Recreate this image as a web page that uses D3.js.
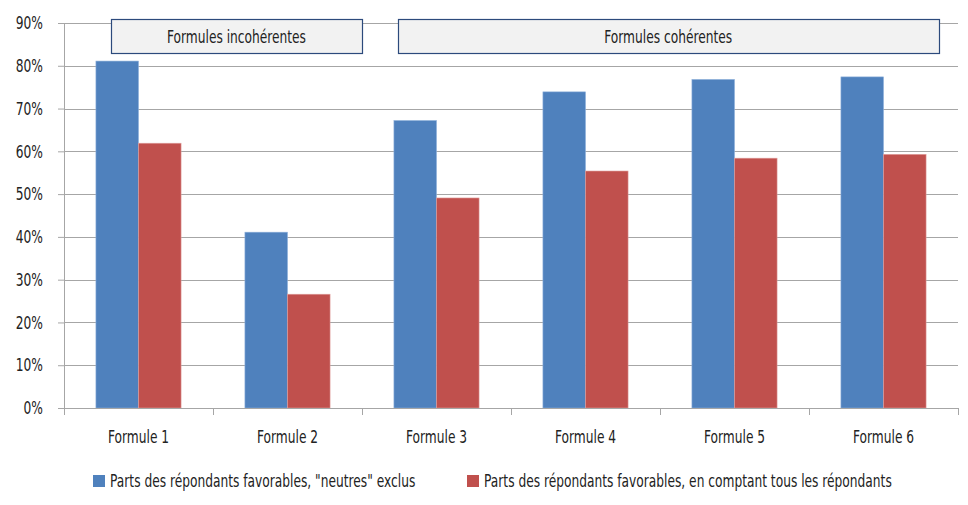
<!DOCTYPE html>
<html>
<head>
<meta charset="utf-8">
<script src="https://cdn.jsdelivr.net/npm/d3@7"></script>
<style>
  body { margin: 0; background: #fff; }
  svg text { font-family: "DejaVu Sans", sans-serif; fill: #222; }
</style>
</head>
<body>
<div class="chart"></div>
<script>
const categories = ["Formule 1", "Formule 2", "Formule 3", "Formule 4", "Formule 5", "Formule 6"];
const seriesNames = ["Parts des répondants favorables, \"neutres\" exclus",
                     "Parts des répondants favorables, en comptant tous les répondants"];
const seriesColors = ["#4f81bd", "#c0504d"];
const neutresExclus = [81.1, 41.1, 67.2, 73.9, 76.8, 77.4];
const tousRepondants = [61.9, 26.6, 49.1, 55.4, 58.4, 59.3];
const yTicks = [0, 10, 20, 30, 40, 50, 60, 70, 80, 90];
const groupLabels = ["Formules incohérentes", "Formules cohérentes"];

const WIDTH = 968, HEIGHT = 505;
const margins = {left: 64, right: 10, top: 23, bottom: 97};
const width = WIDTH - margins.left - margins.right;
const height = HEIGHT - margins.top - margins.bottom;
const FONT = 18;
const K = 0.68; // horizontal squeeze to get a condensed look

// box extents in category units (layout only)
const boxSpans = [[0.315, 2.0], [2.24, 5.87]];

function condense(sel) {
  sel.each(function () {
    const t = d3.select(this);
    const x0 = +t.attr("x") || 0;
    t.attr("x", x0 / K).attr("transform", `scale(${K},1)`).attr("font-size", FONT);
  });
}

const svg = d3.select(".chart").append("svg")
  .attr("width", WIDTH)
  .attr("height", HEIGHT);

const chart = svg.append("g")
  .attr("transform", `translate(${margins.left},${margins.top})`);

const x = d3.scaleBand().domain(categories).range([0, width]);
const y = d3.scaleLinear().domain([0, 90]).range([height, 0]);
const xu = d3.scaleLinear().domain([0, categories.length]).range([0, width]);

// gap width 150%: 2 bars + 1.5 bar gap per category
const barW = x.bandwidth() / 3.5;
const x1 = d3.scaleBand().domain([0, 1]).range([0.75 * barW, 2.75 * barW]);

// gridlines
chart.append("g")
  .selectAll("line")
  .data(yTicks.filter(d => d > 0))
  .join("line")
  .attr("x1", 0).attr("x2", width)
  .attr("y1", d => Math.round(y(d)) + 0.5).attr("y2", d => Math.round(y(d)) + 0.5)
  .attr("stroke", "#a6a6a6");

// y axis
const yAxis = chart.append("g")
  .call(d3.axisLeft(y).tickValues(yTicks).tickSize(6).tickPadding(15).tickFormat(d => d + "%"));
yAxis.select(".domain").attr("stroke", "#a6a6a6");
yAxis.selectAll(".tick line").attr("stroke", "#a6a6a6");
yAxis.selectAll("text").attr("fill", "#222").call(condense);

// bars
const data = categories.map((c, i) => ({cat: c, values: [neutresExclus[i], tousRepondants[i]]}));
chart.append("g")
  .selectAll("g")
  .data(data)
  .join("g")
  .attr("transform", d => `translate(${x(d.cat)},0)`)
  .selectAll("rect")
  .data(d => d.values.map((v, k) => ({k, v})))
  .join("rect")
  .attr("x", d => x1(d.k))
  .attr("y", d => y(d.v))
  .attr("width", x1.bandwidth())
  .attr("height", d => y(0) - y(d.v))
  .attr("fill", d => seriesColors[d.k])
  .attr("stroke", d => d.k === 0 ? "#8eb0da" : "#e0a09e")
  .attr("stroke-width", 0.6);

// x axis
const xAxis = chart.append("g")
  .attr("transform", `translate(0,${height})`)
  .call(d3.axisBottom(x).tickSize(0).tickPadding(22));
xAxis.select(".domain").attr("stroke", "#a6a6a6");
xAxis.selectAll("text").attr("fill", "#222").call(condense);
chart.append("g")
  .selectAll("line")
  .data(d3.range(categories.length + 1))
  .join("line")
  .attr("x1", i => Math.round(xu(i)) + 0.5).attr("x2", i => Math.round(xu(i)) + 0.5)
  .attr("y1", height).attr("y2", height + 7)
  .attr("stroke", "#a6a6a6");

// group boxes
const box = chart.append("g")
  .selectAll("g")
  .data(groupLabels.map((label, i) => ({label, span: boxSpans[i]})))
  .join("g");
box.append("rect")
  .attr("x", d => Math.round(xu(d.span[0])) + 0.5)
  .attr("y", -3.5)
  .attr("width", d => Math.round(xu(d.span[1]) - xu(d.span[0])))
  .attr("height", 34)
  .attr("fill", "#f2f2f2")
  .attr("stroke", "#2c4a7c")
  .attr("stroke-width", 1.2);
box.append("text")
  .attr("x", d => (xu(d.span[0]) + xu(d.span[1])) / 2)
  .attr("y", 14)
  .attr("dy", "0.35em")
  .attr("text-anchor", "middle")
  .text(d => d.label)
  .call(condense);

// legend
const legendX = [93, 467];
const legend = svg.append("g")
  .selectAll("g")
  .data(seriesNames)
  .join("g")
  .attr("transform", (d, i) => `translate(${legendX[i]},475)`);
legend.append("rect")
  .attr("width", 12).attr("height", 12)
  .attr("fill", (d, i) => seriesColors[i]);
legend.append("text")
  .attr("x", 17).attr("y", 6).attr("dy", "0.35em")
  .text(d => d)
  .call(condense);
</script>
</body>
</html>
